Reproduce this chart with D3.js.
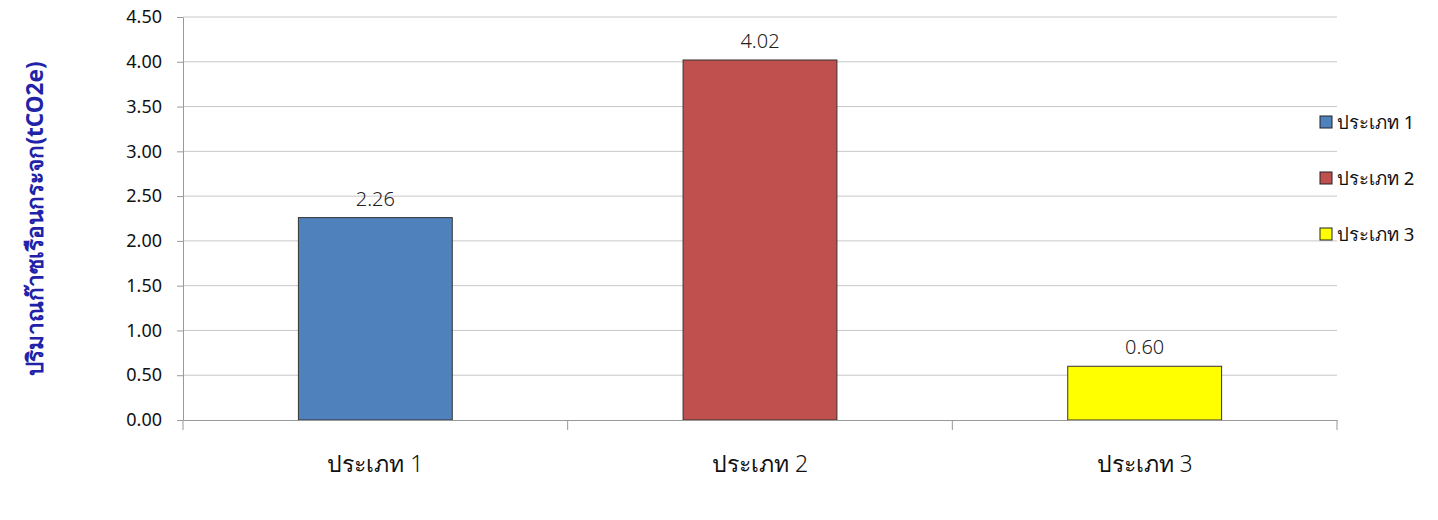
<!DOCTYPE html>
<html>
<head>
<meta charset="utf-8">
<script src="https://cdn.jsdelivr.net/npm/d3@7"></script>
<style>
  body { margin: 0; background: #fff; }
  text { font-family: "Noto Sans", "DejaVu Sans", sans-serif; }
</style>
</head>
<body>
<div id="chart"></div>
<script>
// data
const categories = ["ประเภท 1", "ประเภท 2", "ประเภท 3"];
const values = [2.26, 4.02, 0.6];
const barColors = ["#4f81bd", "#c0504d", "#ffff00"];
const yTicks = [0, 0.5, 1, 1.5, 2, 2.5, 3, 3.5, 4, 4.5];
const yLabel = "ปริมาณก๊าซเรือนกระจก(tCO2e)";

const W = 1438, H = 520;
const margin = { top: 17, right: 101, bottom: 100, left: 183 };
const width = W - margin.left - margin.right,
  height = H - margin.top - margin.bottom;

const svg = d3.select("#chart").append("svg")
  .attr("width", W).attr("height", H);
const g = svg.append("g")
  .attr("transform", `translate(${margin.left},${margin.top})`);

// échelles
const x = d3.scaleBand().domain(categories).range([0, width])
  .paddingInner(0.6).paddingOuter(0.3);
const y = d3.scaleLinear().domain([0, 4.5]).range([height, 0]);

// gridlines
g.append("g")
  .selectAll("line")
  .data(yTicks.slice(1))
  .enter().append("line")
  .attr("x1", 0).attr("x2", width)
  .attr("y1", d => y(d)).attr("y2", d => y(d))
  .attr("stroke", "#c8c8c8").attr("stroke-width", 1);

// bars
g.selectAll(".bar")
  .data(values)
  .enter().append("rect")
  .attr("x", (d, i) => x(categories[i]))
  .attr("y", d => y(d))
  .attr("width", x.bandwidth())
  .attr("height", d => height - y(d))
  .attr("fill", (d, i) => barColors[i])
  .attr("stroke", "#333")
  .attr("stroke-width", 1);

// value labels
g.selectAll(".val")
  .data(values)
  .enter().append("text")
  .attr("x", (d, i) => x(categories[i]) + x.bandwidth() / 2)
  .attr("y", d => y(d) - 12)
  .attr("text-anchor", "middle")
  .style("font-size", "20px")
  .style("font-weight", "300")
  .style("fill", "#222")
  .text(d => d3.format(".2f")(d));

// Axes
const yAxis = g.append("g")
  .call(d3.axisLeft(y).tickValues(yTicks).tickFormat(d3.format(".2f")).tickSize(6).tickSizeOuter(0));
yAxis.select(".domain").attr("stroke", "#999");
yAxis.selectAll(".tick line").attr("stroke", "#999");
yAxis.selectAll(".tick text")
  .attr("x", -21)
  .style("font-size", "18px")
  .style("fill", "#111");

const xAxis = g.append("g")
  .attr("transform", `translate(0,${height})`)
  .call(d3.axisBottom(x).tickSize(0).tickSizeOuter(0));
xAxis.select(".domain").attr("stroke", "#999");
xAxis.selectAll(".tick text")
  .attr("y", 36)
  .style("font-size", "23px")
  .style("font-weight", "300")
  .style("fill", "#111");

// category separator ticks
const sepX = d3.range(categories.length + 1).map(i => i * width / categories.length);
g.append("g").selectAll("line")
  .data(sepX)
  .enter().append("line")
  .attr("x1", d => d).attr("x2", d => d)
  .attr("y1", height).attr("y2", height + 10)
  .attr("stroke", "#999");

// y label
svg.append("text")
  .attr("transform", `translate(43,${margin.top + height / 2}) rotate(-90)`)
  .attr("text-anchor", "middle")
  .style("font-size", "22.5px")
  .style("font-weight", "bold")
  .style("fill", "#2222a8")
  .text(yLabel);

// légende
const legend = svg.append("g")
  .attr("transform", "translate(1320,122)");
categories.forEach((c, i) => {
  legend.append("rect")
    .attr("x", 0).attr("y", i * 56 - 6)
    .attr("width", 12).attr("height", 12)
    .attr("fill", barColors[i])
    .attr("stroke", "#222");
  legend.append("text")
    .attr("x", 17).attr("y", i * 56 + 7)
    .style("font-size", "18.5px")
    .style("fill", "#111")
    .text(c);
});
</script>
</body>
</html>
